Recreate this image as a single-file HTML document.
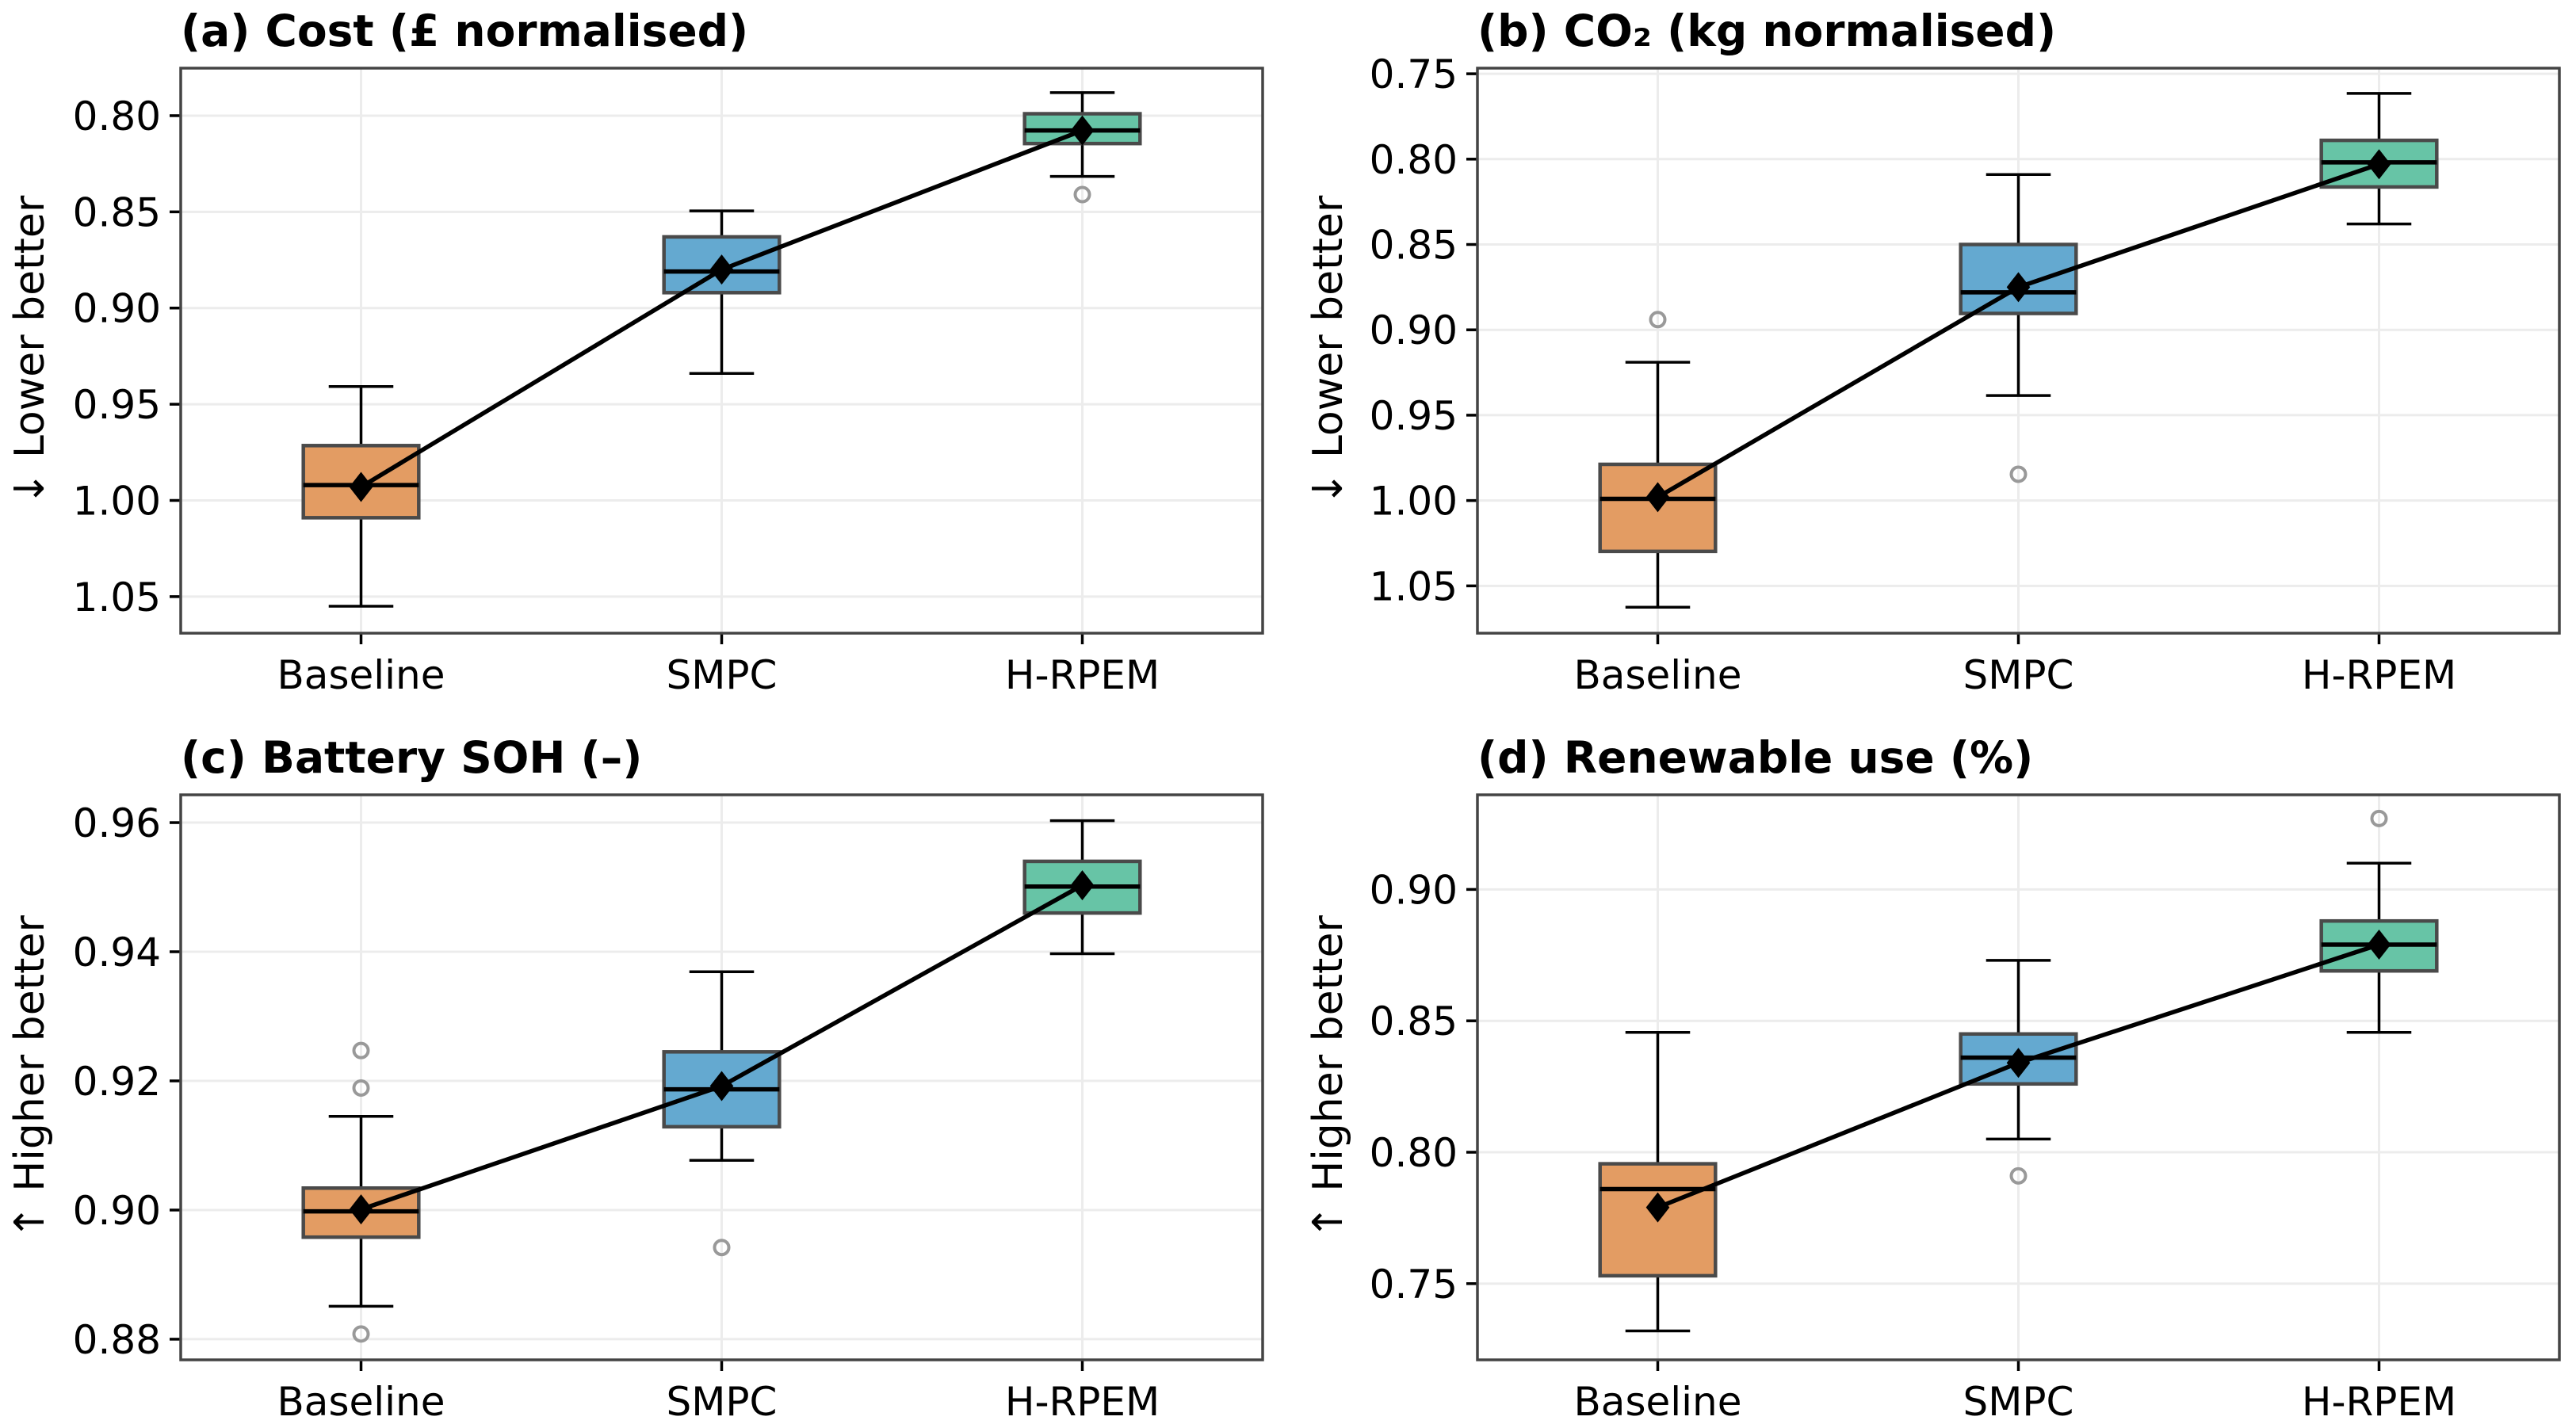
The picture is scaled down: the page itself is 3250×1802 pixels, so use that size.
<!DOCTYPE html>
<html><head><meta charset="utf-8"><style>
body{margin:0;background:#fff}
svg{display:block;font-family:"DejaVu Sans","Liberation Sans",sans-serif}
</style></head><body>
<svg id="fig" width="3250" height="1802" viewBox="0 0 3250 1802" xmlns="http://www.w3.org/2000/svg"></svg>
<script>
const categories = ["Baseline","SMPC","H-RPEM"];
const colors = ["#e39c63","#64a9d0","#67c4a6"];
// [whiskerLow, q1, median, q3, whiskerHigh]
const costStats = [[0.9408,0.9715,0.992,1.009,1.055],[0.8495,0.863,0.881,0.892,0.934],[0.788,0.799,0.8077,0.8145,0.8316]];
const costMeans = [0.993,0.880,0.8077];
const costOutliers = [[],[],[0.841]];
const co2Stats = [[0.919,0.9788,0.999,1.0298,1.0625],[0.809,0.850,0.878,0.8904,0.9385],[0.7615,0.789,0.8019,0.8163,0.838]];
const co2Means = [0.998,0.875,0.803];
const co2Outliers = [[0.894],[0.9846],[]];
const sohStats = [[0.8851,0.8958,0.8998,0.9034,0.9145],[0.9077,0.9129,0.9187,0.9245,0.9369],[0.9397,0.946,0.9501,0.954,0.9603]];
const sohMeans = [0.9001,0.9192,0.9503];
const sohOutliers = [[0.9247,0.9189,0.8808],[0.8942],[]];
const renStats = [[0.732,0.753,0.786,0.7956,0.8456],[0.805,0.826,0.836,0.845,0.873],[0.8456,0.869,0.879,0.888,0.910]];
const renMeans = [0.779,0.834,0.879];
const renOutliers = [[],[0.791],[0.927]];
const costTicks = ["0.80","0.85","0.90","0.95","1.00","1.05"];
const co2Ticks = ["0.75","0.80","0.85","0.90","0.95","1.00","1.05"];
const sohTicks = ["0.88","0.90","0.92","0.94","0.96"];
const renTicks = ["0.75","0.80","0.85","0.90"];

const NS="http://www.w3.org/2000/svg";
const svg=document.getElementById('fig');
function mk(tag,attrs,parent){const e=document.createElementNS(NS,tag);for(const k in attrs)e.setAttribute(k,attrs[k]);(parent||svg).appendChild(e);return e;}

const panels=[
 {key:"cost",title:"(a) Cost (£ normalised)",ylabel:"↓ Lower better",x0:228,y0:86,ylim:[0.7753,1.069],inv:true,stats:costStats,means:costMeans,outs:costOutliers,ticks:costTicks,lx:38},
 {key:"co2",title:"(b) CO₂ (kg normalised)",ylabel:"↓ Lower better",x0:1864,y0:86,ylim:[0.7467,1.0777],inv:true,stats:co2Stats,means:co2Means,outs:co2Outliers,ticks:co2Ticks,lx:1676},
 {key:"soh",title:"(c) Battery SOH (–)",ylabel:"↑ Higher better",x0:228,y0:1003,ylim:[0.8768,0.9643],inv:false,stats:sohStats,means:sohMeans,outs:sohOutliers,ticks:sohTicks,lx:38},
 {key:"renewable",title:"(d) Renewable use (%)",ylabel:"↑ Higher better",x0:1864,y0:1003,ylim:[0.721,0.936],inv:false,stats:renStats,means:renMeans,outs:renOutliers,ticks:renTicks,lx:1676}
];
const W=1365,H=713;
panels.forEach(p=>{
 const g=mk('g',{});
 
 
 const xs=i=>p.x0+(i+0.5)*W/3;
 const ys=v=>{const [a,b]=p.ylim;const f=(v-a)/(b-a);return p.inv? p.y0+f*H : p.y0+H-f*H;};
 p.ticks.forEach(t=>{const y=ys(parseFloat(t));
  const gl=mk('line',{x1:p.x0,x2:p.x0+W,y1:y,y2:y,stroke:'#ececec','stroke-width':3},g);
  
  const tk=mk('line',{x1:p.x0-14,x2:p.x0,y1:y,y2:y,stroke:'#000','stroke-width':3.5},g);
  
  const tl=mk('text',{x:p.x0-25,y:y+18,'text-anchor':'end','font-size':50,fill:'#000'},g);tl.textContent=t;
  
 });
 categories.forEach((c,i)=>{const x=xs(i);
  const gl=mk('line',{x1:x,x2:x,y1:p.y0,y2:p.y0+H,stroke:'#ececec','stroke-width':3},g);
  
  const tk=mk('line',{x1:x,x2:x,y1:p.y0+H,y2:p.y0+H+14,stroke:'#000','stroke-width':3.5},g);
  
  const tl=mk('text',{x:x,y:p.y0+H+70,'text-anchor':'middle','font-size':50,fill:'#000'},g);tl.textContent=c;
  
 });
 const bw=0.32*W/3, cw=0.16*W/3;
 p.stats.forEach((s,i)=>{const x=xs(i);
  const [wl,q1,md,q3,wh]=s;
  const w1=mk('line',{x1:x,x2:x,y1:ys(wl),y2:ys(q1),stroke:'#000','stroke-width':3.5},g);
  
  const w2=mk('line',{x1:x,x2:x,y1:ys(q3),y2:ys(wh),stroke:'#000','stroke-width':3.5},g);
  
  [wl,wh].forEach(v=>{const cap=mk('line',{x1:x-cw/2*1.12,x2:x+cw/2*1.12,y1:ys(v),y2:ys(v),stroke:'#000','stroke-width':3.5},g);
   });
  const yA=ys(q1),yB=ys(q3);
  const r=mk('rect',{x:x-bw/2,y:Math.min(yA,yB),width:bw,height:Math.abs(yB-yA),fill:colors[i],stroke:'#4a4a4a','stroke-width':4.5},g);
  
  const m=mk('line',{x1:x-bw/2,x2:x+bw/2,y1:ys(md),y2:ys(md),stroke:'#000','stroke-width':5.5},g);
  
  p.outs[i].forEach(v=>{const o=mk('circle',{cx:x,cy:ys(v),r:9,fill:'none',stroke:'#999','stroke-width':4},g);
   });
 });
 const pts=p.means.map((v,i)=>xs(i)+','+ys(v)).join(' ');
 const pl=mk('polyline',{points:pts,fill:'none',stroke:'#000','stroke-width':5.5},g);
 
 p.means.forEach((v,i)=>{const x=xs(i),y=ys(v),d=19;
  const dm=mk('polygon',{points:`${x},${y-d} ${x+d*0.78},${y} ${x},${y+d} ${x-d*0.78},${y}`,fill:'#000'},g);
  });
 const fr=mk('rect',{x:p.x0,y:p.y0,width:W,height:H,fill:'none',stroke:'#444','stroke-width':3.5},g);
 
 const t=mk('text',{x:p.x0,y:p.y0-28,'font-size':55,'font-weight':'bold',fill:'#000'},g);t.textContent=p.title;
 
 const cy=p.y0+H/2;
 const yl=mk('text',{x:p.lx,y:cy,'text-anchor':'middle','font-size':52,fill:'#000',transform:`rotate(-90 ${p.lx} ${cy})`,'dominant-baseline':'central'},g);yl.textContent=p.ylabel;
 
});
</script>
</body></html>
